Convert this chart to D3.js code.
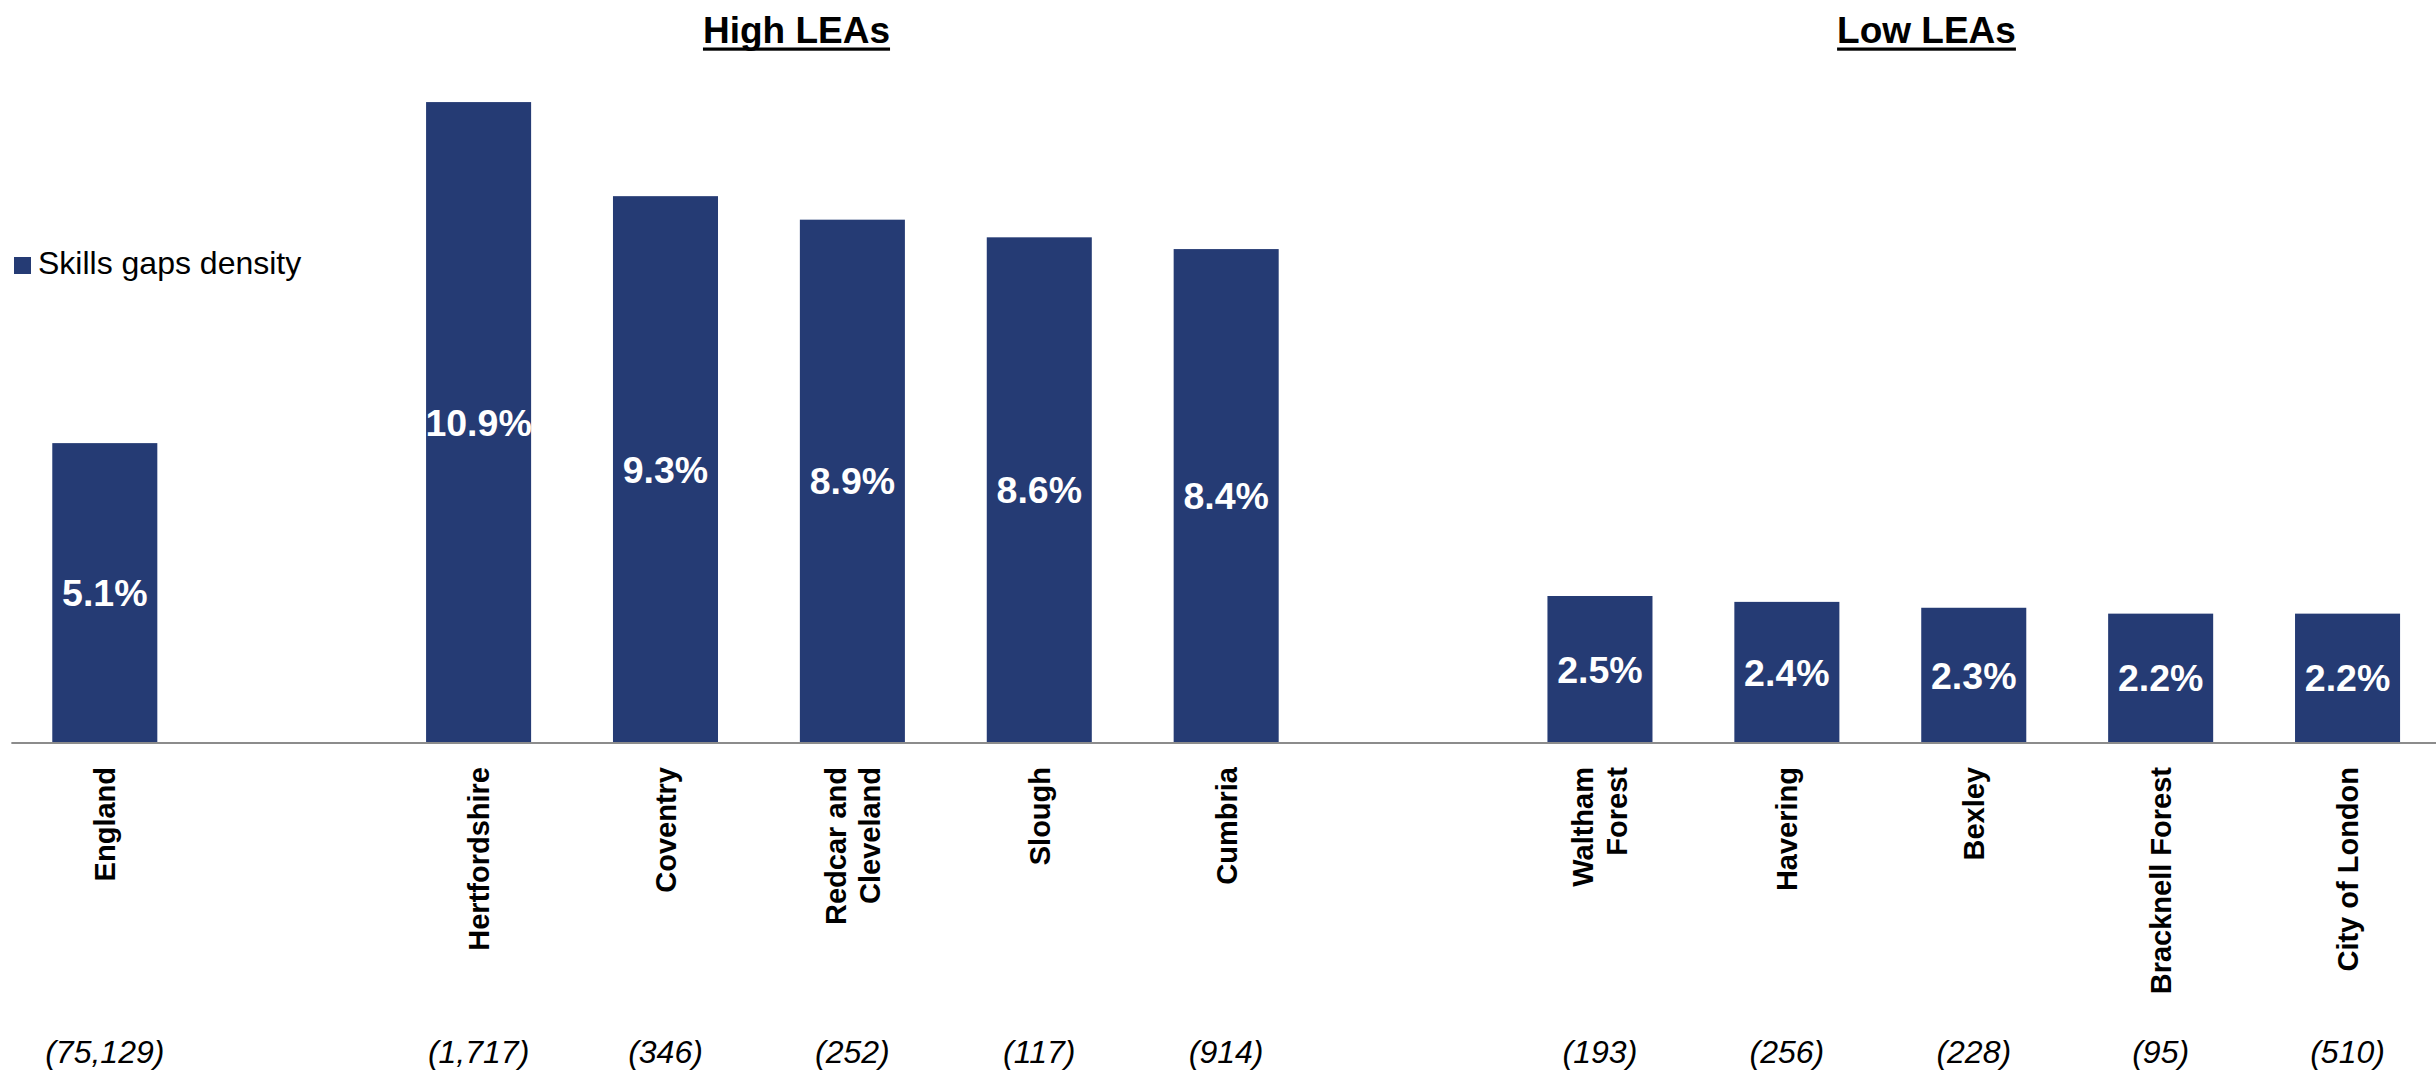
<!DOCTYPE html>
<html>
<head>
<meta charset="utf-8">
<script src="https://cdn.jsdelivr.net/npm/d3@7"></script>
<style>
  html, body { margin: 0; padding: 0; background: #ffffff; }
  svg { display: block; font-family: "Liberation Sans", Arial, sans-serif; }
</style>
</head>
<body>
<svg id="chart" width="2436" height="1076"></svg>
<script>
// Skills gaps density by local area
const categories = [
  "England",
  "Hertfordshire", "Coventry", "Redcar and\nCleveland", "Slough", "Cumbria",
  "Waltham\nForest", "Havering", "Bexley", "Bracknell Forest", "City of London"
];
const groups = [
  "England",
  "High LEAs", "High LEAs", "High LEAs", "High LEAs", "High LEAs",
  "Low LEAs", "Low LEAs", "Low LEAs", "Low LEAs", "Low LEAs"
];
const values = [5.1, 10.9, 9.3, 8.9, 8.6, 8.4, 2.5, 2.4, 2.3, 2.2, 2.2];
const baseCounts = ["(75,129)", "(1,717)", "(346)", "(252)", "(117)", "(914)",
                    "(193)", "(256)", "(228)", "(95)", "(510)"];
const groupTitles = ["High LEAs", "Low LEAs"];
const seriesName = "Skills gaps density";

const barColor = "#253b74";
const svg = d3.select("#chart");

const data = categories.map((c, i) => ({
  key: c, label: c.split("\n"), group: groups[i], value: values[i], n: baseCounts[i]
}));

// One band per bar, with an empty band between consecutive groups
const slots = [];
data.forEach((d, i) => {
  if (i > 0 && d.group !== data[i - 1].group) slots.push("__gap" + i);
  slots.push(d.key);
});

const baseline = 743;
const x = d3.scaleBand()
  .domain(slots)
  .range([11.35, 2441])
  .paddingInner(0.438)
  .paddingOuter(0.219);

const y = d3.scaleLinear()
  .domain([0, 12])
  .range([baseline, baseline - 12 * 58.8]);

const cx = d => x(d.key) + x.bandwidth() / 2;

// Bars
svg.append("g").selectAll("rect")
  .data(data)
  .join("rect")
  .attr("x", d => x(d.key))
  .attr("y", d => y(d.value))
  .attr("width", x.bandwidth())
  .attr("height", d => y(0) - y(d.value))
  .attr("fill", barColor);

// Category axis line
const xAxis = d3.axisBottom(x).tickSize(0).tickFormat("");
svg.append("g")
  .attr("transform", `translate(0,${baseline})`)
  .call(xAxis)
  .call(g => g.select(".domain")
    .attr("stroke", "#8c8c8c")
    .attr("stroke-width", 2.2)
    .attr("d", `M${x.range()[0]},0H2436`));

// Value labels inside bars
svg.append("g").selectAll("text")
  .data(data)
  .join("text")
  .attr("x", cx)
  .attr("y", d => (y(d.value) + y(0)) / 2)
  .attr("dy", "0.35em")
  .attr("text-anchor", "middle")
  .attr("fill", "#ffffff")
  .attr("font-weight", "bold")
  .attr("font-size", 37.5)
  .text(d => d.value.toFixed(1) + "%");

// Rotated category labels
const catSize = 29, lineGap = 34;
const catLabels = svg.append("g").selectAll("text")
  .data(data)
  .join("text")
  .attr("transform", d => `translate(${cx(d)},767) rotate(-90)`)
  .attr("text-anchor", "end")
  .attr("font-weight", "bold")
  .attr("font-size", catSize)
  .attr("fill", "#000000");
catLabels.each(function (d) {
  const t = d3.select(this);
  const n = d.label.length;
  d.label.forEach((line, i) => {
    t.append("tspan")
      .attr("x", 0)
      .attr("y", (i - (n - 1) / 2) * lineGap + catSize * 0.36)
      .text(line);
  });
});

// Base sizes below the labels
svg.append("g").selectAll("text")
  .data(data)
  .join("text")
  .attr("x", cx)
  .attr("y", 1063)
  .attr("text-anchor", "middle")
  .attr("font-style", "italic")
  .attr("font-size", 32)
  .attr("fill", "#000000")
  .text(d => d.n);

// Group headings (bold, underlined)
const titleX = [796.5, 1926.5];
groupTitles.forEach((t, i) => {
  const txt = svg.append("text")
    .attr("x", titleX[i])
    .attr("y", 43)
    .attr("text-anchor", "middle")
    .attr("font-weight", "bold")
    .attr("font-size", 37)
    .attr("fill", "#000000")
    .text(t);
  const w = txt.node().getComputedTextLength();
  svg.append("rect")
    .attr("x", titleX[i] - w / 2)
    .attr("y", 47.5)
    .attr("width", w)
    .attr("height", 3.2)
    .attr("fill", "#000000");
});

// Legend
const legend = svg.append("g").attr("transform", "translate(14,257)");
legend.append("rect")
  .attr("width", 17)
  .attr("height", 17)
  .attr("fill", barColor);
legend.append("text")
  .attr("x", 24)
  .attr("y", 17.3)
  .attr("font-size", 32)
  .attr("fill", "#000000")
  .text(seriesName);
</script>
</body>
</html>
